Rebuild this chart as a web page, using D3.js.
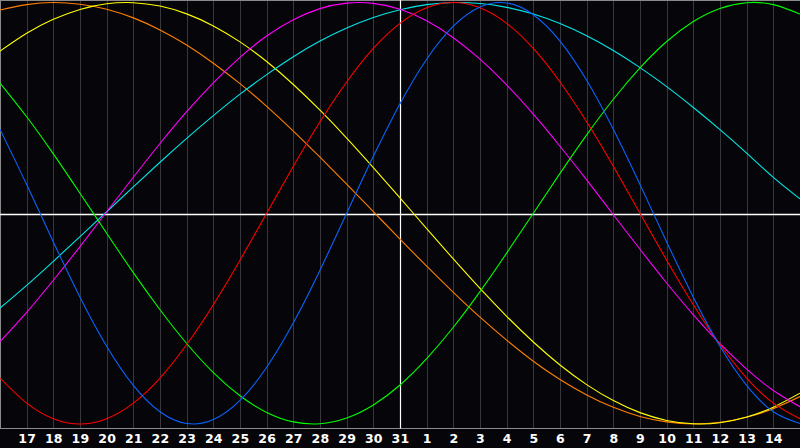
<!DOCTYPE html>
<html><head><meta charset="utf-8">
<script src="https://cdn.jsdelivr.net/npm/d3@7"></script>
<style>html,body{margin:0;padding:0;background:#060509;overflow:hidden}</style>
</head><body><svg id="c" width="800" height="448"></svg>
<script>
const dayLabels = ["16","17","18","19","20","21","22","23","24","25","26","27","28","29","30","31","1","2","3","4","5","6","7","8","9","10","11","12","13","14","15"];
const todayIndex = 15;
const physical = [0.398,0.136,-0.136,-0.398,-0.631,-0.817,-0.942,-0.998,-0.979,-0.888,-0.731,-0.520,-0.270,0,0.270,0.520,0.731,0.888,0.979,0.998,0.942,0.817,0.631,0.398,0.136,-0.136,-0.398,-0.631,-0.817,-0.942,-0.998];
const emotional = [-0.782,-0.901,-0.975,-1,-0.975,-0.901,-0.782,-0.623,-0.434,-0.223,0,0.223,0.434,0.623,0.782,0.901,0.975,1,0.975,0.901,0.782,0.623,0.434,0.223,0,-0.223,-0.434,-0.623,-0.782,-0.901,-0.975];
const intellectual = [0.618,0.458,0.282,0.095,-0.095,-0.282,-0.458,-0.618,-0.756,-0.866,-0.945,-0.990,-0.999,-0.972,-0.910,-0.815,-0.690,-0.541,-0.372,-0.189,0,0.189,0.372,0.541,0.690,0.815,0.910,0.972,0.999,0.990,0.945];
const intuitive = [-0.609,-0.470,-0.318,-0.158,0.007,0.171,0.331,0.482,0.619,0.740,0.841,0.918,0.971,0.997,0.996,0.968,0.913,0.833,0.731,0.609,0.470,0.318,0.158,-0.007,-0.171,-0.331,-0.482,-0.619,-0.740,-0.841,-0.918];
const spiritual = [-0.450,-0.342,-0.228,-0.111,0.007,0.125,0.242,0.355,0.463,0.565,0.658,0.743,0.817,0.879,0.929,0.966,0.990,1.000,0.995,0.977,0.945,0.900,0.842,0.772,0.691,0.601,0.502,0.397,0.285,0.170,0.068];
const aesthetic = [0.769,0.854,0.920,0.967,0.994,0.999,0.983,0.946,0.889,0.813,0.720,0.611,0.489,0.357,0.217,0.073,-0.073,-0.217,-0.357,-0.489,-0.611,-0.720,-0.813,-0.889,-0.946,-0.983,-0.999,-0.994,-0.967,-0.920,-0.854];
const awareness = [0.964,0.990,1.000,0.992,0.968,0.927,0.870,0.798,0.712,0.615,0.507,0.390,0.266,0.138,0.008,-0.123,-0.251,-0.375,-0.493,-0.602,-0.702,-0.789,-0.862,-0.921,-0.964,-0.990,-1.000,-0.992,-0.968,-0.927,-0.870];

const series = [
  {name:"awareness", values:awareness, color:"#ff8000"},
  {name:"aesthetic", values:aesthetic, color:"#ffff00"},
  {name:"spiritual", values:spiritual, color:"#00e8e8"},
  {name:"intuitive", values:intuitive, color:"#ff00ff"},
  {name:"intellectual", values:intellectual, color:"#00ff00"},
  {name:"emotional", values:emotional, color:"#ff0000"},
  {name:"physical", values:physical, color:"#0a64ff"}
];

const svg = d3.select("#c");
const x = d3.scaleLinear().domain([0, dayLabels.length-1]).range([0, 800]);
const y = d3.scaleLinear().domain([-1, 1]).range([424, 2.5]);
const bottom = 428.5;

// grid
svg.append("g").selectAll("line").data(d3.range(1, dayLabels.length-1)).join("line")
  .attr("x1", d => Math.round(x(d))+0.5).attr("x2", d => Math.round(x(d))+0.5)
  .attr("y1", 0).attr("y2", bottom)
  .attr("stroke", "#38373e").attr("stroke-width", 1);

// frame
svg.append("line").attr("x1",0.5).attr("x2",0.5).attr("y1",0).attr("y2",bottom).attr("stroke","#8a8a8a");
svg.append("line").attr("x1",0).attr("x2",800).attr("y1",0.5).attr("y2",0.5).attr("stroke","#8a8a8a");
svg.append("line").attr("x1",0).attr("x2",800).attr("y1",bottom).attr("y2",bottom).attr("stroke","#8a8a8a");

// axes lines
svg.append("line").attr("x1",0).attr("x2",800).attr("y1",214.5).attr("y2",214.5).attr("stroke","#ffffff").attr("stroke-width",1.5);
svg.append("line").attr("x1",Math.round(x(todayIndex))+0.5).attr("x2",Math.round(x(todayIndex))+0.5).attr("y1",0).attr("y2",bottom).attr("stroke","#ffffff").attr("stroke-width",1.2);

// curves
const line = d3.line().x((d,i) => x(i)).y(d => y(d)).curve(d3.curveNatural);
svg.append("g").selectAll("path").data(series).join("path")
  .attr("d", d => line(d.values)).attr("fill","none")
  .attr("stroke", d => d.color).attr("stroke-width", 1.1);

// labels
const axis = d3.axisBottom(x).tickValues(d3.range(1, dayLabels.length-1)).tickFormat(i => dayLabels[i]).tickSize(0).tickPadding(6);
const g = svg.append("g").attr("transform", `translate(0,${bottom})`).call(axis);
g.select(".domain").remove();
g.selectAll("text").attr("fill","#ffffff").style("font-family","'DejaVu Sans', sans-serif").style("font-weight","bold").style("font-size","12.5px").style("letter-spacing","0.2px");
</script></body></html>
